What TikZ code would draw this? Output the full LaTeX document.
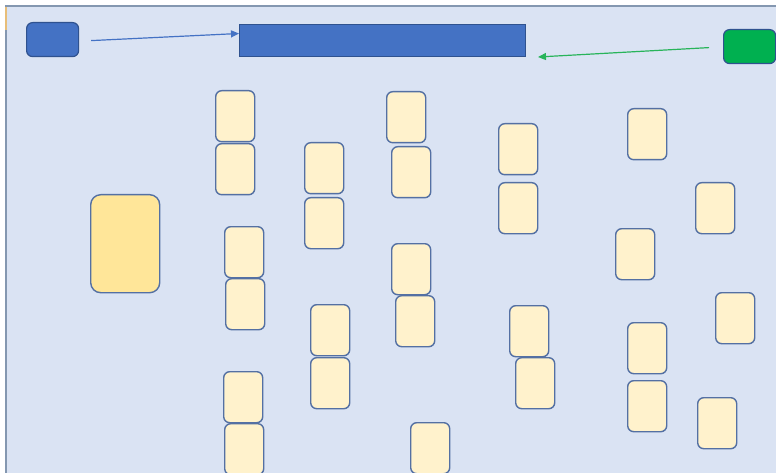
\documentclass[tikz,border=0pt]{standalone}
\usepackage{tikz}
\usetikzlibrary{arrows.meta, positioning}
\usepackage{xcolor}
\definecolor{slidebg}{RGB}{218,227,243}
\definecolor{slideframe}{RGB}{132,151,176}
\definecolor{edgeblue}{RGB}{47,82,143}
\definecolor{cardedge}{RGB}{84,112,163}
\definecolor{titleblue}{RGB}{68,114,196}
\definecolor{okgreen}{RGB}{0,176,80}
\definecolor{linkgreen}{RGB}{40,180,90}
\definecolor{cardcream}{RGB}{255,242,204}
\definecolor{deckgold}{RGB}{255,230,153}
\definecolor{tabtan}{RGB}{232,190,120}

\begin{document}
\begin{tikzpicture}[
    x=1pt, y=-1pt,
    card/.style={rectangle, draw=cardedge, fill=cardcream, line width=1.4pt, minimum width=39pt, minimum height=51pt, inner sep=0pt, rounded corners=6pt, anchor=north west},
    deck/.style={rectangle, draw=cardedge, fill=deckgold, line width=1.4pt, minimum width=69pt, minimum height=98pt, inner sep=0pt, rounded corners=10pt, anchor=north west},
    badge/.style={rectangle, draw=edgeblue, line width=1.2pt, minimum width=52pt, minimum height=34pt, inner sep=0pt, rounded corners=6pt, anchor=north west},
    bar/.style={rectangle, draw=edgeblue, fill=titleblue, line width=1pt, minimum width=286pt, minimum height=32pt, inner sep=0pt, anchor=north west},
    arr/.style={-{Triangle[length=8pt, width=7pt]}, line width=1.2pt}
]
    \useasboundingbox (0,0) rectangle (776,473);
    \fill[slidebg] (6,6) rectangle (776,473);
    \draw[slideframe, line width=1.2pt] (776,6) -- (6,6) -- (6,473);
    \draw[tabtan, line width=1.2pt] (6,7) -- (6,30);

    % header
    \node (start) [badge, fill=titleblue] at (26,22) {};
    \node (title) [bar] at (239,24) {};
    \node (done) [badge, fill=okgreen] at (723,29) {};

    \draw[arr, titleblue] ([xshift=12pt, yshift=-1pt]start.east) -- ([yshift=7pt]title.west);
    \draw[arr, linkgreen] ([xshift=-14pt, yshift=-1pt]done.west) -- ([xshift=12pt]title.south east);

    % stack
    \node (pile) [deck] at (90,194) {};

    % cards
    \node (c1) [card] at (215,90) {};
    \node (c2) [card] at (215,143) {};
    \node (c3) [card] at (304,142) {};
    \node (c4) [card] at (304,197) {};
    \node (c5) [card] at (386,91) {};
    \node (c6) [card] at (391,146) {};
    \node (c7) [card] at (498,123) {};
    \node (c8) [card] at (498,182) {};
    \node (c9) [card] at (627,108) {};
    \node (c10) [card] at (695,182) {};
    \node (c11) [card] at (224,226) {};
    \node (c12) [card] at (225,278) {};
    \node (c13) [card] at (391,243) {};
    \node (c14) [card] at (395,295) {};
    \node (c15) [card] at (615,228) {};
    \node (c16) [card] at (310,304) {};
    \node (c17) [card] at (310,357) {};
    \node (c18) [card] at (509,305) {};
    \node (c19) [card] at (515,357) {};
    \node (c20) [card] at (715,292) {};
    \node (c21) [card] at (627,322) {};
    \node (c22) [card] at (627,380) {};
    \node (c23) [card] at (697,397) {};
    \node (c24) [card] at (223,371) {};
    \node (c25) [card] at (224,423) {};
    \node (c26) [card] at (410,422) {};
\end{tikzpicture}
\end{document}
